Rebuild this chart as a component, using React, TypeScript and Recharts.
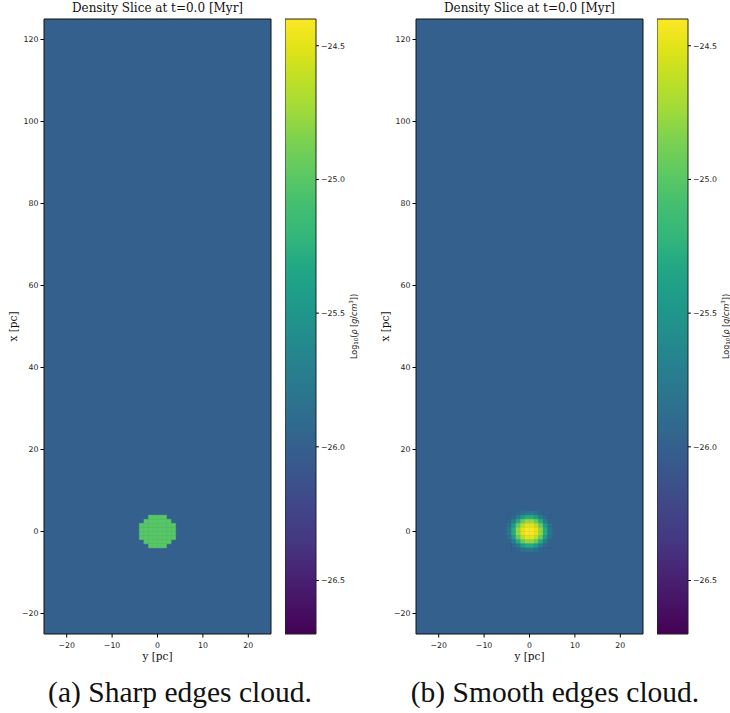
import React from "react";
import { ComposedChart, XAxis, YAxis, ReferenceArea, Scatter } from "recharts";

// ---------- data ----------
const X_TICKS = [-20, -10, 0, 10, 20];
const Y_TICKS = [-20, 0, 20, 40, 60, 80, 100, 120];
const CB_TICKS = [-26.5, -26.0, -25.5, -25.0, -24.5];
const X_DOMAIN: [number, number] = [-25, 25];
const Y_DOMAIN: [number, number] = [-25, 125];
const CB_DOMAIN: [number, number] = [-26.7, -24.4];
const BACKGROUND = -26.0;
const CELL = 1;

// sharp-edged cloud: log10 density in each cell (null = ambient medium)
const SHARP_X = [-3.5, -2.5, -1.5, -0.5, 0.5, 1.5, 2.5, 3.5];
const SHARP_Y = [3.5, 2.5, 1.5, 0.5, -0.5, -1.5, -2.5, -3.5];
const SHARP_ROWS: (number | null)[][] = [
  [null, null, -25.0, -25.0, -25.0, -25.0, null, null],
  [null, -25.0, -25.0, -25.0, -25.0, -25.0, -25.0, null],
  [-25.0, -25.0, -25.0, -25.0, -25.0, -25.0, -25.0, -25.0],
  [-25.0, -25.0, -25.0, -25.0, -25.0, -25.0, -25.0, -25.0],
  [-25.0, -25.0, -25.0, -25.0, -25.0, -25.0, -25.0, -25.0],
  [-25.0, -25.0, -25.0, -25.0, -25.0, -25.0, -25.0, -25.0],
  [null, -25.0, -25.0, -25.0, -25.0, -25.0, -25.0, null],
  [null, null, -25.0, -25.0, -25.0, -25.0, null, null],
];

// smooth-edged cloud
const SMOOTH_X = [-4.5, -3.5, -2.5, -1.5, -0.5, 0.5, 1.5, 2.5, 3.5, 4.5];
const SMOOTH_Y = [4.5, 3.5, 2.5, 1.5, 0.5, -0.5, -1.5, -2.5, -3.5, -4.5];
const SMOOTH_ROWS: (number | null)[][] = [
  [-26.0, -26.0, -25.97, -25.88, -25.8, -25.8, -25.88, -25.97, -26.0, -26.0],
  [-26.0, -25.93, -25.75, -25.45, -25.3, -25.3, -25.45, -25.75, -25.93, -26.0],
  [-25.97, -25.75, -25.3, -24.95, -24.78, -24.78, -24.95, -25.3, -25.75, -25.97],
  [-25.88, -25.45, -24.95, -24.65, -24.5, -24.5, -24.65, -24.95, -25.45, -25.88],
  [-25.8, -25.3, -24.78, -24.5, -24.4, -24.4, -24.5, -24.78, -25.3, -25.8],
  [-25.8, -25.3, -24.78, -24.5, -24.4, -24.4, -24.5, -24.78, -25.3, -25.8],
  [-25.88, -25.45, -24.95, -24.65, -24.5, -24.5, -24.65, -24.95, -25.45, -25.88],
  [-25.97, -25.75, -25.3, -24.95, -24.78, -24.78, -24.95, -25.3, -25.75, -25.97],
  [-26.0, -25.93, -25.75, -25.45, -25.3, -25.3, -25.45, -25.75, -25.93, -26.0],
  [-26.0, -26.0, -25.97, -25.88, -25.8, -25.8, -25.88, -25.97, -26.0, -26.0],
];

const TITLE = "Density Slice at t=0.0 [Myr]";
const CAPTION_A = "(a) Sharp edges cloud.";
const CAPTION_B = "(b) Smooth edges cloud.";

// ---------- colour map (viridis) ----------
const VIRIDIS = [
  "#440154", "#471365", "#482475", "#453781", "#414487", "#3b528b",
  "#355f8d", "#2f6c8e", "#2a788e", "#25848e", "#21918c", "#1e9c89",
  "#22a884", "#35b779", "#44bf70", "#5ec962", "#7ad151", "#9fda3a",
  "#bddf26", "#dfe318", "#fde725",
];
function hex(c: string) {
  return [1, 3, 5].map((i) => parseInt(c.slice(i, i + 2), 16));
}
function viridis(t: number) {
  const tt = Math.max(0, Math.min(1, t)) * (VIRIDIS.length - 1);
  const i = Math.min(VIRIDIS.length - 2, Math.floor(tt));
  const f = tt - i;
  const a = hex(VIRIDIS[i]);
  const b = hex(VIRIDIS[i + 1]);
  const c = a.map((v, k) => Math.round(v + (b[k] - v) * f));
  return `rgb(${c[0]},${c[1]},${c[2]})`;
}
function colorOf(v: number) {
  return viridis((v - CB_DOMAIN[0]) / (CB_DOMAIN[1] - CB_DOMAIN[0]));
}

function buildCells(xs: number[], ys: number[], rows: (number | null)[][]) {
  const out: { x: number; y: number; v: number }[] = [];
  rows.forEach((row, i) =>
    row.forEach((v, j) => {
      if (v !== null) out.push({ x: xs[j], y: ys[i], v });
    })
  );
  return out;
}

const minus = (s: string) => s.replace("-", "\u2212");
const TICK_FONT = { fontFamily: "DejaVu Sans", fontSize: 7.8, fill: "#222" };
const SERIF = "DejaVu Serif";

const PLOT_TOP = 19;
const CHART_H = 680;
const XAXIS_H = 46;

function XLabel(props: any) {
  const vb = props.viewBox;
  return (
    <text
      x={vb.x + vb.width / 2}
      y={vb.y + 22}
      textAnchor="middle"
      dominantBaseline="central"
      fontFamily={SERIF}
      fontSize={10.5}
      fill="#111"
    >
      y [pc]
    </text>
  );
}
function YLabel(props: any) {
  const vb = props.viewBox;
  const cx = vb.x + 13;
  const cy = vb.y + vb.height / 2;
  return (
    <text
      x={cx}
      y={cy}
      transform={`rotate(-90, ${cx}, ${cy})`}
      textAnchor="middle"
      dominantBaseline="central"
      fontFamily={SERIF}
      fontSize={10.5}
      fill="#111"
    >
      x [pc]
    </text>
  );
}
function CbLabel(props: any) {
  const vb = props.viewBox;
  const cx = vb.x + 38;
  const cy = vb.y + vb.height / 2;
  return (
    <text
      x={cx}
      y={cy}
      transform={`rotate(-90, ${cx}, ${cy})`}
      textAnchor="middle"
      dominantBaseline="central"
      fontFamily="DejaVu Sans"
      fontSize={8}
      fill="#222"
    >
      Log
      <tspan fontSize={5.6} dy={2}>10</tspan>
      <tspan dy={-2}>(</tspan>
      <tspan fontStyle="italic">ρ</tspan> [<tspan fontStyle="italic">g</tspan>/<tspan fontStyle="italic">cm</tspan>
      <tspan fontSize={5.6} dy={-3}>3</tspan>
      <tspan dy={3}>])</tspan>
    </text>
  );
}

function Heatmap({ cells }: { cells: { x: number; y: number; v: number }[] }) {
  return (
    <ComposedChart
      width={280}
      height={CHART_H}
      margin={{ top: PLOT_TOP, right: 9, bottom: 0, left: 0 }}
      data={cells}
    >
      <XAxis
        type="number"
        dataKey="x"
        domain={X_DOMAIN}
        ticks={X_TICKS}
        allowDataOverflow
        height={XAXIS_H}
        axisLine={false}
        tickSize={3.5}
        tickMargin={5}
        tickLine={{ stroke: "#000" }}
        tick={TICK_FONT}
        tickFormatter={(v: number) => minus(String(v))}
        label={<XLabel />}
      />
      <YAxis
        type="number"
        dataKey="y"
        domain={Y_DOMAIN}
        ticks={Y_TICKS}
        allowDataOverflow
        width={44}
        axisLine={false}
        tickSize={3.5}
        tickMargin={2}
        tickLine={{ stroke: "#000" }}
        tick={TICK_FONT}
        tickFormatter={(v: number) => minus(String(v))}
        label={<YLabel />}
      />
      <ReferenceArea
        x1={X_DOMAIN[0]}
        x2={X_DOMAIN[1]}
        y1={Y_DOMAIN[0]}
        y2={Y_DOMAIN[1]}
        fill={colorOf(BACKGROUND)}
        fillOpacity={1}
        stroke="none"
      />
      {cells.map((c, i) => (
        <ReferenceArea
          key={i}
          x1={c.x - CELL / 2}
          x2={c.x + CELL / 2}
          y1={c.y - CELL / 2}
          y2={c.y + CELL / 2}
          fill={colorOf(c.v)}
          fillOpacity={1}
          stroke={colorOf(c.v)}
          strokeWidth={0.4}
        />
      ))}
      <ReferenceArea
        x1={X_DOMAIN[0]}
        x2={X_DOMAIN[1]}
        y1={Y_DOMAIN[0]}
        y2={Y_DOMAIN[1]}
        fill="none"
        fillOpacity={0}
        stroke="#111"
        strokeWidth={1}
      />
      <Scatter dataKey="y" isAnimationActive={false} shape={() => <g />} />
    </ComposedChart>
  );
}

function Colorbar({ id }: { id: string }) {
  const stops = VIRIDIS.map((c, i) => ({ off: 1 - i / (VIRIDIS.length - 1), c }));
  return (
    <ComposedChart
      width={85}
      height={CHART_H}
      margin={{ top: PLOT_TOP, right: 0, bottom: XAXIS_H, left: 0 }}
      data={[{ x: 0, y: CB_DOMAIN[0] }, { x: 1, y: CB_DOMAIN[1] }]}
    >
      <defs>
        <linearGradient id={id} x1="0" y1="0" x2="0" y2="1">
          {stops
            .slice()
            .reverse()
            .map((s, i) => (
              <stop key={i} offset={s.off} stopColor={s.c} />
            ))}
        </linearGradient>
      </defs>
      <XAxis type="number" dataKey="x" domain={[0, 1]} hide />
      <YAxis
        type="number"
        dataKey="y"
        orientation="right"
        domain={CB_DOMAIN}
        ticks={CB_TICKS}
        allowDataOverflow
        width={54}
        axisLine={false}
        tickSize={3}
        tickMargin={2}
        tickLine={{ stroke: "#000" }}
        tick={{ ...TICK_FONT, textAnchor: "start" }}
        tickFormatter={(v: number) => minus(v.toFixed(1))}
        label={<CbLabel />}
      />
      <ReferenceArea
        x1={0}
        x2={1}
        y1={CB_DOMAIN[0]}
        y2={CB_DOMAIN[1]}
        fill={`url(#${id})`}
        fillOpacity={1}
        stroke="#222"
        strokeWidth={1}
      />
      <Scatter dataKey="y" isAnimationActive={false} shape={() => <g />} />
    </ComposedChart>
  );
}

const SHARP_CELLS = buildCells(SHARP_X, SHARP_Y, SHARP_ROWS);
const SMOOTH_CELLS = buildCells(SMOOTH_X, SMOOTH_Y, SMOOTH_ROWS);

function Title({ left }: { left: number }) {
  return (
    <div
      style={{
        position: "absolute",
        left,
        top: 1,
        width: 227,
        textAlign: "center",
        fontFamily: SERIF,
        fontSize: 12,
        color: "#111",
        whiteSpace: "nowrap",
      }}
    >
      {TITLE}
    </div>
  );
}

function Caption({ center, text }: { center: number; text: string }) {
  return (
    <div
      style={{
        position: "absolute",
        left: center - 200,
        width: 400,
        top: 676,
        textAlign: "center",
        fontFamily: "Liberation Serif",
        fontSize: 29.5,
        color: "#111",
        whiteSpace: "nowrap",
      }}
    >
      {text}
    </div>
  );
}

export default function App() {
  return (
    <div
      style={{
        position: "absolute",
        left: 0,
        top: 0,
        width: 730,
        height: 713,
        background: "#fff",
        overflow: "hidden",
      }}
    >
      <div style={{ position: "absolute", left: 0, top: 0 }}>
        <Heatmap cells={SHARP_CELLS} />
      </div>
      <div style={{ position: "absolute", left: 285, top: 0 }}>
        <Colorbar id="cbA" />
      </div>
      <div style={{ position: "absolute", left: 372, top: 0 }}>
        <Heatmap cells={SMOOTH_CELLS} />
      </div>
      <div style={{ position: "absolute", left: 657, top: 0 }}>
        <Colorbar id="cbB" />
      </div>
      <Title left={44} />
      <Title left={416} />
      <Caption center={180} text={CAPTION_A} />
      <Caption center={555} text={CAPTION_B} />
    </div>
  );
}
